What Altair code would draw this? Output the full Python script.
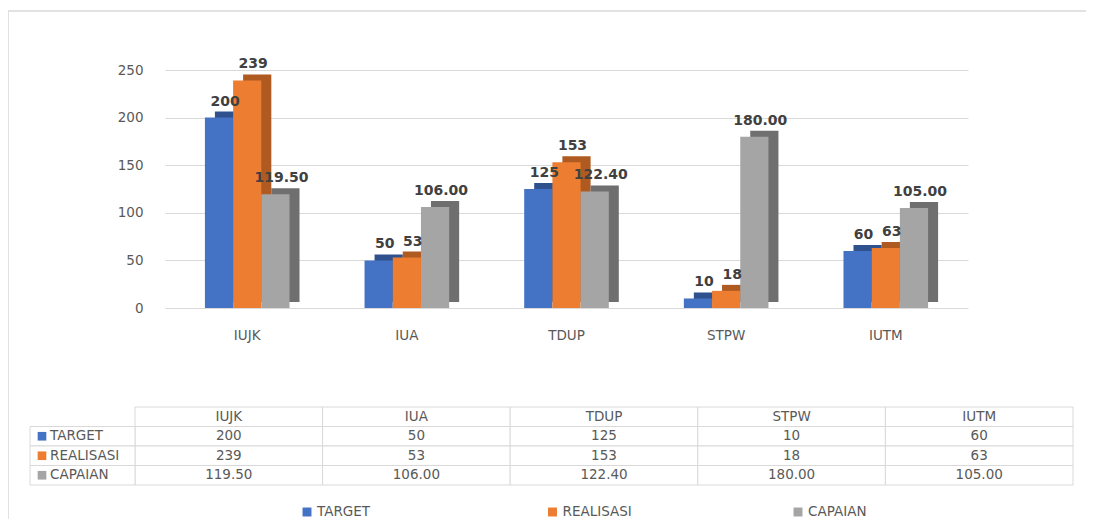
import altair as alt
import pandas as pd

CATEGORIES = ["IUJK", "IUA", "TDUP", "STPW", "IUTM"]
SERIES = ["TARGET", "REALISASI", "CAPAIAN"]
TARGET = [200, 50, 125, 10, 60]
REALISASI = [239, 53, 153, 18, 63]
CAPAIAN = [119.50, 106.00, 122.40, 180.00, 105.00]
Y_TICKS = [0, 50, 100, 150, 200, 250]
COLORS = ["#4472C4", "#ED7D31", "#A5A5A5"]
SIDE_COLORS = ["#2F528F", "#AE5A21", "#6F6F6F"]

FONT = "DejaVu Sans"
LABEL_FONT = "DejaVu Sans"
FS = 13.5
TXT = "#595959"
GRID = "#D9D9D9"


def fmt(s, v):
    return f"{v:.2f}" if s == "CAPAIAN" else f"{v:g}"


rows = []
for s, vals in zip(SERIES, [TARGET, REALISASI, CAPAIAN]):
    for c, v in zip(CATEGORIES, vals):
        rows.append({"category": c, "series": s, "value": v, "label": fmt(s, v)})
df = pd.DataFrame(rows)

W, H = 1078, 511
X0, X1 = 157, 960
P_IN, P_OUT = 0.47, 0.25
STEP = (X1 - X0) / (len(CATEGORIES) - P_IN + 2 * P_OUT)
BW = STEP * (1 - P_IN)
DEPTH_X, DEPTH_Y = 10, 6

color_enc = alt.Color("series:N", scale=alt.Scale(domain=SERIES, range=COLORS), legend=None)

x_enc = alt.X(
    "category:N",
    scale=alt.Scale(domain=CATEGORIES, range=[X0, X1], paddingInner=P_IN, paddingOuter=P_OUT),
    axis=alt.Axis(title=None, orient="bottom", offset=300 - H, domain=False, ticks=False,
                  labelPadding=20, labelAngle=0, labelFontSize=FS, labelColor=TXT,
                  labelFont=FONT, grid=False),
)
y_enc = alt.Y(
    "value:Q",
    scale=alt.Scale(domain=[0, 250], range=[300, 62], nice=False),
    axis=alt.Axis(title=None, offset=-X0, domain=False, ticks=False, labelPadding=22,
                  values=Y_TICKS, grid=True, gridColor=GRID, labelFontSize=FS,
                  labelColor=TXT, labelFont=FONT),
)
xoff_enc = alt.XOffset("series:N", scale=alt.Scale(domain=SERIES, paddingInner=0))
xoff_side = alt.XOffset("series:N", scale=alt.Scale(domain=SERIES, paddingInner=0,
                                                     range=[DEPTH_X, BW + DEPTH_X]))

side = alt.Chart(df).mark_bar(yOffset=-DEPTH_Y, y2Offset=-DEPTH_Y).encode(
    x=x_enc, y=y_enc, xOffset=xoff_side,
    fill=alt.Fill("series:N", scale=alt.Scale(domain=SERIES, range=SIDE_COLORS), legend=None),
)
base = alt.Chart(df).encode(x=x_enc, y=y_enc, xOffset=xoff_enc)
bars = base.mark_bar().encode(color=color_enc)
labels = base.mark_text(dy=-16, dx=6, fontWeight="bold", fontSize=14,
                        color="#404040", font=LABEL_FONT).encode(text="label:N")

top = alt.layer(side, bars, labels).resolve_scale(xOffset="independent")

# ---- data table ----
trows = [{"col": c, "row": "HDR", "text": c} for c in CATEGORIES]
for s, vals in zip(SERIES, [TARGET, REALISASI, CAPAIAN]):
    for c, v in zip(CATEGORIES, vals):
        trows.append({"col": c, "row": s, "text": fmt(s, v)})
tdf = pd.DataFrame(trows)
ldf = pd.DataFrame({"row": SERIES, "series": SERIES})

ty_scale = alt.Scale(domain=["HDR"] + SERIES, range=[399, 477], paddingInner=0, paddingOuter=0)
tx = alt.X("col:N", scale=alt.Scale(domain=CATEGORIES, range=[127, 1065],
                                     paddingInner=0, paddingOuter=0), axis=None)
ty = alt.Y("row:N", scale=ty_scale, axis=None)

cells = alt.Chart(tdf).mark_rect(fill="white", stroke=GRID, strokeWidth=1).encode(x=tx, y=ty)
ctext = alt.Chart(tdf).mark_text(fontSize=FS, color=TXT, font=FONT).encode(x=tx, y=ty, text="text:N")
lcells = alt.Chart(ldf).mark_rect(fill="white", stroke=GRID, strokeWidth=1).encode(
    x=alt.value(22), x2=alt.value(127), y=ty)
squares = alt.Chart(ldf).mark_square(size=75, opacity=1).encode(
    x=alt.value(34), y=ty, color=color_enc)
ltext = alt.Chart(ldf).mark_text(align="left", fontSize=FS, color=TXT, font=FONT).encode(
    x=alt.value(42), y=ty, text="row:N")

table = alt.layer(cells, lcells, ctext, squares, ltext)

# ---- bottom legend ----
lg_x = alt.X("series:N", scale=alt.Scale(domain=SERIES, type="point", range=[299, 790], padding=0),
             axis=None)
lg_sym = alt.Chart(ldf).mark_square(size=80, opacity=1).encode(x=lg_x, y=alt.value(504), color=color_enc)
lg_txt = alt.Chart(ldf).mark_text(align="left", dx=10, fontSize=FS, color=TXT, font=FONT).encode(
    x=lg_x, y=alt.value(504), text="series:N")
legend = alt.layer(lg_sym, lg_txt)

# ---- chart frame ----
fdf = pd.DataFrame({"a": [0]})
frame_left = alt.Chart(fdf).mark_rule(color=GRID, strokeWidth=1.5).encode(
    x=alt.value(0), y=alt.value(3), y2=alt.value(H))
frame_top = alt.Chart(fdf).mark_rule(color=GRID, strokeWidth=1.5).encode(
    x=alt.value(0), x2=alt.value(W + 8), y=alt.value(3))

chart = (
    alt.layer(frame_left, frame_top, top, table, legend)
    .resolve_scale(x="independent", y="independent")
    .properties(width=W, height=H, autosize=alt.AutoSizeParams(type="none"), padding=0)
    .configure_view(stroke=None)
)

chart.save("out.html", embed_options={"renderer": "svg", "actions": False})
